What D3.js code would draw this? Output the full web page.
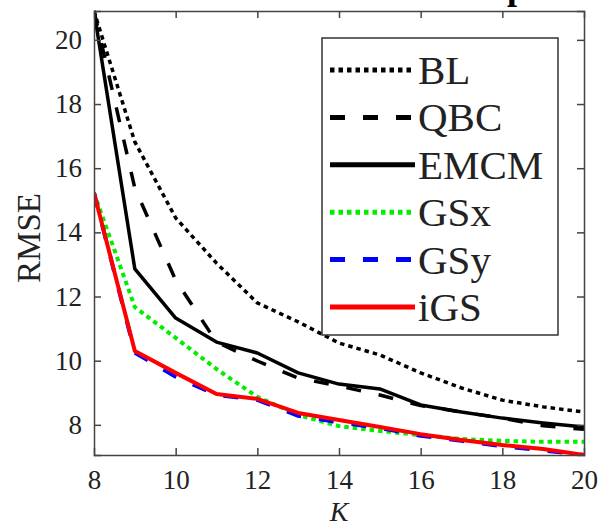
<!DOCTYPE html>
<html><head><meta charset="utf-8">
<script src="https://cdn.jsdelivr.net/npm/d3@7"></script>
<style>html,body{margin:0;padding:0;background:#fff;}svg{display:block;}
svg text{font-family:"Liberation Serif","DejaVu Serif",serif;}</style>
</head><body><svg id="c" width="604" height="528"></svg>
<script>
const K = [8,9,10,11,12,13,14,15,16,17,18,19,20];
const BL   = [20.9,16.82,14.45,13.04,11.80,11.21,10.55,10.18,9.62,9.15,8.77,8.56,8.40];
const QBC  = [20.9,15.38,12.51,10.58,9.99,9.46,9.21,8.93,8.60,8.40,8.21,7.97,7.86];
const EMCM = [20.9,12.86,11.33,10.58,10.24,9.62,9.27,9.12,8.62,8.40,8.21,8.06,7.93];
const GSx  = [15.23,11.67,10.71,9.74,8.87,8.31,7.96,7.81,7.68,7.56,7.50,7.47,7.47];
const GSy  = [15.23,10.25,9.50,8.93,8.78,8.28,8.08,7.90,7.66,7.50,7.33,7.20,7.06];
const iGS  = [15.23,10.30,9.62,8.96,8.81,8.37,8.15,7.93,7.71,7.53,7.37,7.25,7.06];
const xTicks = [8,10,12,14,16,18,20];
const yTicks = [8,10,12,14,16,18,20];
const seriesNames = ["BL","QBC","EMCM","GSx","GSy","iGS"];

const seriesData = {BL, QBC, EMCM, GSx, GSy, iGS};
const styles = {
  BL:   {color:"#000", w:3.5, dash:"4.5,4"},
  QBC:  {color:"#000", w:3.5, dash:"15,18"},
  EMCM: {color:"#000", w:3.5, dash:null},
  GSx:  {color:"#00ee00", w:4, dash:"4.5,4"},
  GSy:  {color:"#0000ff", w:4, dash:"15,18"},
  iGS:  {color:"#ff0000", w:4, dash:null}
};

const svg = d3.select("#c");
const L=94, R=584, T=11, B=455;
const x = d3.scaleLinear().domain([8,20]).range([L,R]);
const y = d3.scaleLinear().domain([7.06,20.9]).range([B,T]);
const font = '"Liberation Serif","DejaVu Serif",serif';
const txt = "#222";

// title fragment (cut off at top of the picture)
svg.append("text").attr("x",433).attr("y",-1)
  .style("font-family",font).attr("font-weight","bold").attr("font-size",36)
  .attr("fill","#000").text("Comp");

svg.append("defs").append("clipPath").attr("id","pc")
  .append("rect").attr("x",L).attr("y",T-2).attr("width",R-L+2).attr("height",B-T+2);

const line = d3.line().x((d,i)=>x(K[i])).y(d=>y(d));
const g = svg.append("g").attr("clip-path","url(#pc)");
seriesNames.forEach(n=>{
  const s = styles[n];
  g.append("path").attr("d", line(seriesData[n]))
    .attr("fill","none").attr("stroke",s.color).attr("stroke-width",s.w)
    .attr("stroke-dasharray",s.dash).attr("stroke-linejoin","round");
});

// axes (inward ticks, box)
const axCol = "#444";
const axB = svg.append("g").attr("transform",`translate(0,${B})`)
  .call(d3.axisBottom(x).tickValues(xTicks).tickSize(-7).tickPadding(15).tickFormat(d3.format("d")));
const axT = svg.append("g").attr("transform",`translate(0,${T})`)
  .call(d3.axisTop(x).tickValues(xTicks).tickSize(-7).tickFormat(""));
const axL = svg.append("g").attr("transform",`translate(${L},0)`)
  .call(d3.axisLeft(y).tickValues(yTicks).tickSize(-7).tickPadding(12).tickFormat(d3.format("d")));
const axR = svg.append("g").attr("transform",`translate(${R},0)`)
  .call(d3.axisRight(y).tickValues(yTicks).tickSize(-7).tickFormat(""));
[axB,axT,axL,axR].forEach(a=>{
  a.attr("font-family",null);
  a.select(".domain").attr("stroke",axCol).attr("stroke-width",1.5);
  a.selectAll(".tick line").attr("stroke",axCol).attr("stroke-width",1.5);
  a.selectAll(".tick text").style("font-family",font).attr("font-size",27).attr("fill",txt);
});
[axT,axR].forEach(a=>a.selectAll(".tick text").remove());
axB.selectAll(".tick").filter(d=>d===8||d===20).select("line").remove();
axT.selectAll(".tick").filter(d=>d===8||d===20).select("line").remove();

// axis labels
svg.append("text").attr("x",(L+R)/2).attr("y",521).attr("text-anchor","middle")
  .style("font-family",font).attr("font-style","italic").attr("font-size",28).attr("fill",txt).text("K");
svg.append("text").attr("transform",`translate(40,${238}) rotate(-90)`).attr("text-anchor","middle")
  .style("font-family",font).attr("font-size",33).attr("fill",txt).text("RMSE");

// legend
const lg = svg.append("g");
lg.append("rect").attr("x",322).attr("y",38).attr("width",236).attr("height",297)
  .attr("fill","#fff").attr("stroke","#333").attr("stroke-width",1.5);
seriesNames.forEach((n,i)=>{
  const s = styles[n];
  const yy = 70 + i*47.4;
  lg.append("line").attr("x1",330).attr("x2",415).attr("y1",yy).attr("y2",yy)
    .attr("stroke",s.color).attr("stroke-width",5).attr("stroke-dasharray",s.dash);
  lg.append("text").attr("x",418).attr("y",yy+14).style("font-family",font)
    .attr("font-size",41).attr("fill",txt).text(n);
});
</script></body></html>
